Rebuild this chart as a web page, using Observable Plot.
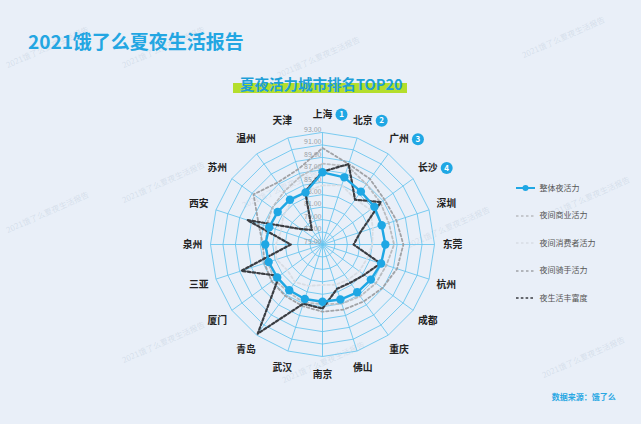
<!DOCTYPE html>
<html><head><meta charset="utf-8">
<script src="https://cdn.jsdelivr.net/npm/d3@7"></script>
<script src="https://cdn.jsdelivr.net/npm/@observablehq/plot@0.6"></script>
<style>
html,body{margin:0;padding:0;}
body{width:641px;height:424px;background:#e9eff8;position:relative;overflow:hidden;font-family:"Noto Sans CJK SC","Noto Sans",sans-serif;}
.abs{position:absolute;white-space:nowrap;line-height:1;}
#title{left:28px;top:31px;font-size:19px;font-weight:700;color:#23a6e2;}
#subbar{left:233px;top:83px;width:174px;height:10px;background:#b4de2c;}
#sub{left:240px;top:77px;font-size:14.5px;font-weight:700;color:#1e9fd8;}
#chart{left:151.7px;top:74px;}
.wm{position:absolute;white-space:nowrap;font-size:8px;color:rgba(160,175,198,0.28);transform:rotate(-24deg);transform-origin:left top;}
.lg{position:absolute;left:516px;width:120px;height:12px;}
.lg svg{position:absolute;left:0;top:0;}
.lg span{position:absolute;left:23.5px;top:1.5px;font-size:8px;color:#555;line-height:1;}
#src{left:551.7px;top:393px;font-size:8px;font-weight:700;color:#2aa7e3;}
</style></head>
<body>
<div id="wms"></div>
<div class="abs" id="title">2021饿了么夏夜生活报告</div>
<div class="abs" id="subbar"></div>
<div class="abs" id="sub">夏夜活力城市排名TOP20</div>
<div class="abs" id="chart"></div>
<div id="legend"></div>
<div class="abs" id="src">数据来源：饿了么</div>
<script>
const cities = ["上海","北京","广州","长沙","深圳","东莞","杭州","成都","重庆","佛山","南京","武汉","青岛","厦门","三亚","泉州","西安","苏州","温州","天津"];
const overall   = [86.6,86.35,85.5,85.3,85.0,85.1,84.9,84.6,84.5,84.3,84.2,84.2,84.1,84.0,84.1,84.2,84.0,83.9,83.9,83.8];
const commerce  = [88.0,88.2,87.0,86.5,86.2,86.5,85.8,85.6,85.3,85.0,84.6,84.8,84.4,84.6,84.2,84.0,84.5,85.0,85.5,86.5];
const consumer  = [84.5,85.0,84.0,84.5,83.5,83.0,82.5,82.3,82.0,81.8,81.5,82.0,82.5,82.0,82.8,82.5,82.0,82.8,83.5,84.0];
const rider     = [90.5,88.6,88.0,87.3,87.5,88.0,87.6,86.9,86.3,86.0,85.8,85.4,85.2,85.1,84.8,84.6,85.8,88.7,87.3,87.7];
const richness  = [86.7,88.6,83.9,86.6,81.4,80.0,84.8,83.3,82.6,82.5,85.3,85.0,92.7,83.6,88.7,80.1,87.7,79.2,77.9,84.0];
const rankLabels = ["1","2","3","4"];
const ringTicks = [75,77,79,81,83,85,87,89,91,93];
const seriesNames = ["整体夜活力","夜间商业活力","夜间消费者活力","夜间骑手活力","夜生活丰富度"];

const blue = "#1fa7e4";
const grid = "#66c4ee";
const rMin = 75, rMax = 93;
const lon = i => 180 - 360 / cities.length * i;
const lat = v => 90 - (v - rMin);
const labelR = rMin + 20.9;
const badgeR = rMin + 20.9;

const series = [
  {name: seriesNames[1], values: commerce, stroke: "#b9bcc0", dash: "2.5,2.5", w: 1.8},
  {name: seriesNames[2], values: consumer, stroke: "#d8dde4", dash: "2.5,2.5", w: 1.8},
  {name: seriesNames[3], values: rider, stroke: "#a0a2a6", dash: "2.5,2.5", w: 1.8},
  {name: seriesNames[4], values: richness, stroke: "#3a3d42", dash: "2.6,2.2", w: 2.2}
];

const ringData = ringTicks.slice(1).flatMap(t => cities.map((c, i) => ({t, i})));
const toRows = vals => vals.map((v, i) => ({i, v}));

const chart = Plot.plot({
  width: 340, height: 340, margin: 0,
  style: {background: "transparent", overflow: "visible", fontFamily: '"Noto Sans CJK SC","Noto Sans",sans-serif'},
  projection: {
    type: "azimuthal-equidistant",
    rotate: [0, -90],
    domain: d3.geoCircle().center([0, 90]).radius(18 * 170 / 112).precision(1)()
  },
  marks: [
    Plot.line(ringData, {x: d => lon(d.i), y: d => lat(d.t), z: "t", curve: "linear-closed", stroke: grid, strokeWidth: 0.85}),
    Plot.link(cities, {x1: (d, i) => lon(i), y1: 90, x2: (d, i) => lon(i), y2: lat(rMax), curve: "linear", stroke: grid, strokeWidth: 0.85}),
    Plot.text(ringTicks, {x: 180, y: t => lat(t), text: t => t.toFixed(2), textAnchor: "end", dx: -1, dy: -3, fontSize: 7, fill: "#9a9ea4"}),
    ...series.map(s => Plot.line(toRows(s.values), {x: d => lon(d.i), y: d => lat(d.v), curve: "linear-closed", stroke: s.stroke, strokeWidth: s.w, strokeDasharray: s.dash})),
    Plot.line(toRows(overall), {x: d => lon(d.i), y: d => lat(d.v), curve: "linear-closed", stroke: blue, strokeWidth: 2.4}),
    Plot.dot(toRows(overall), {x: d => lon(d.i), y: d => lat(d.v), r: 4.2, fill: blue, stroke: "none"}),
    Plot.text(cities, {x: (d, i) => lon(i), y: lat(labelR), text: d => d, fontSize: 9.8, fontWeight: "bold", fill: "#222"}),
    Plot.dot(rankLabels, {x: (d, i) => lon(i), y: lat(badgeR), dx: 19, r: 6, fill: blue, stroke: "none"}),
    Plot.text(rankLabels, {x: (d, i) => lon(i), y: lat(badgeR), dx: 19, text: d => d, fontSize: 8, fontWeight: "bold", fill: "white"})
  ]
});
document.getElementById("chart").appendChild(chart);

// legend
const legendY = [188, 215.5, 243, 270.5, 298];
const legendStyles = [{stroke: blue, dash: null, w: 2, dot: true}, ...series.map(s => ({stroke: s.stroke, dash: s.dash, w: 1.6}))];
const lg = document.getElementById("legend");
seriesNames.forEach((n, k) => {
  const st = legendStyles[k];
  const div = document.createElement("div");
  div.className = "lg";
  div.style.top = (legendY[k] - 6) + "px";
  div.innerHTML = `<svg width="20" height="12"><line x1="0" x2="19" y1="6" y2="6" stroke="${st.stroke}" stroke-width="${st.w}" ${st.dash ? `stroke-dasharray="${st.dash}"` : ""}/>${st.dot ? `<circle cx="9.5" cy="6" r="3" fill="${st.stroke}"/>` : ""}</svg><span>${n}</span>`;
  lg.appendChild(div);
});

// watermarks
const wmText = "2021饿了么夏夜生活报告";
const wmPos = [[4,60],[120,60],[275,70],[520,50],[4,225],[120,195],[240,200],[405,240],[545,210],[120,355],[280,375],[540,370]];
const wms = document.getElementById("wms");
wmPos.forEach(([x, y]) => {
  const s = document.createElement("div");
  s.className = "wm"; s.textContent = wmText;
  s.style.left = x + "px"; s.style.top = y + "px";
  wms.appendChild(s);
});
</script>
</body></html>
